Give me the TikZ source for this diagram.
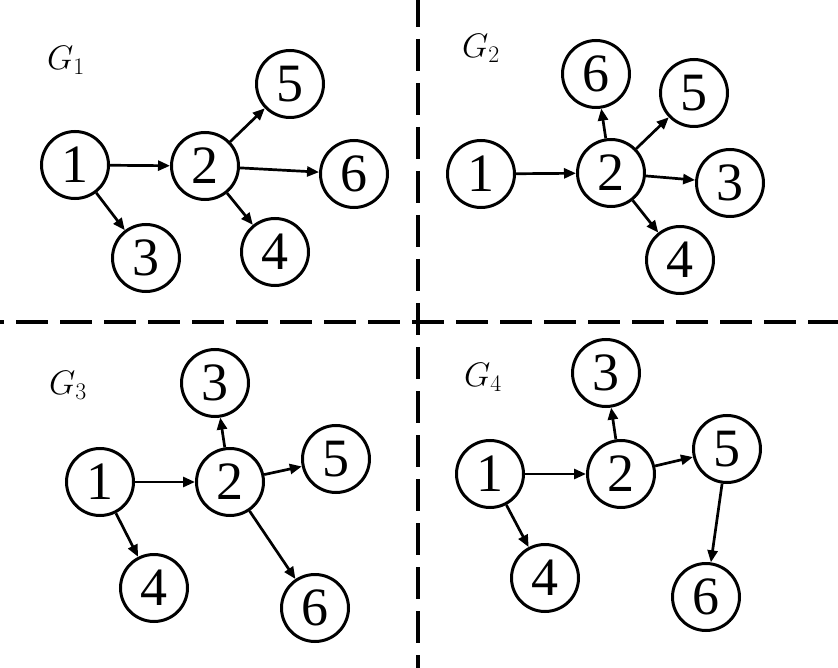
\documentclass[tikz,border=0pt]{standalone}
\usepackage{fix-cm}
\usepackage{fontspec}
\setmainfont{Liberation Serif}
\usetikzlibrary{arrows.meta}
\tikzset{
  vtx/.style={circle, draw, line width=3pt, minimum size=67pt, inner sep=0pt,
    font=\fontsize{54}{54}\selectfont},
  edge/.style={line width=2.7pt, -{Triangle[length=12pt,width=10pt]}},
  glabel/.style={inner sep=0pt, font=\fontsize{34}{34}\selectfont},
  divider/.style={line width=4pt, dash pattern=on 32pt off 12pt}
}
\begin{document}
\begin{tikzpicture}[x=1pt,y=-1pt]
\useasboundingbox (0,0) rectangle (838,668);
% dividers
\coordinate (vt) at (417.5,0);
\coordinate (vb) at (417.5,668);
\coordinate (hl) at (0,322);
\coordinate (hr) at (838,322);
\draw[divider, dash phase=5pt] (vt) -- (vb);
\draw[divider, dash phase=28pt] (hl) -- (hr);

% G1
\node[glabel] (g1) at (66,60) {$G_1$};
\node[vtx] (a1) at (75,165) {1};
\node[vtx] (a2) at (205,166) {2};
\node[vtx] (a3) at (146,258) {3};
\node[vtx] (a4) at (275,252) {4};
\node[vtx] (a5) at (290,84) {5};
\node[vtx] (a6) at (354,174) {6};
\draw[edge] (a1) -- (a2);
\draw[edge] (a1) -- (a3);
\draw[edge] (a2) -- (a5);
\draw[edge] (a2) -- (a6);
\draw[edge] (a2) -- (a4);

% G2
\node[glabel] (g2) at (481,48) {$G_2$};
\node[vtx] (b1) at (481,174) {1};
\node[vtx] (b2) at (611,173) {2};
\node[vtx] (b3) at (730,183) {3};
\node[vtx] (b4) at (680,260) {4};
\node[vtx] (b5) at (694,93) {5};
\node[vtx] (b6) at (596,74) {6};
\draw[edge] (b1) -- (b2);
\draw[edge] (b2) -- (b6);
\draw[edge] (b2) -- (b5);
\draw[edge] (b2) -- (b3);
\draw[edge] (b2) -- (b4);

% G3
\node[glabel] (g3) at (68,385) {$G_3$};
\node[vtx] (c1) at (100,482) {1};
\node[vtx] (c2) at (230,482) {2};
\node[vtx] (c3) at (215,383) {3};
\node[vtx] (c4) at (154,588) {4};
\node[vtx] (c5) at (336,459) {5};
\node[vtx] (c6) at (315,608) {6};
\draw[edge] (c1) -- (c2);
\draw[edge] (c1) -- (c4);
\draw[edge] (c2) -- (c3);
\draw[edge] (c2) -- (c5);
\draw[edge] (c2) -- (c6);

% G4
\node[glabel] (g4) at (483,377) {$G_4$};
\node[vtx] (d1) at (490,474) {1};
\node[vtx] (d2) at (621,474) {2};
\node[vtx] (d3) at (606,373) {3};
\node[vtx] (d4) at (545,578) {4};
\node[vtx] (d5) at (727,449) {5};
\node[vtx] (d6) at (706,597) {6};
\draw[edge] (d1) -- (d2);
\draw[edge] (d1) -- (d4);
\draw[edge] (d2) -- (d3);
\draw[edge] (d2) -- (d5);
\draw[edge] (d5) -- (d6);
\end{tikzpicture}
\end{document}
